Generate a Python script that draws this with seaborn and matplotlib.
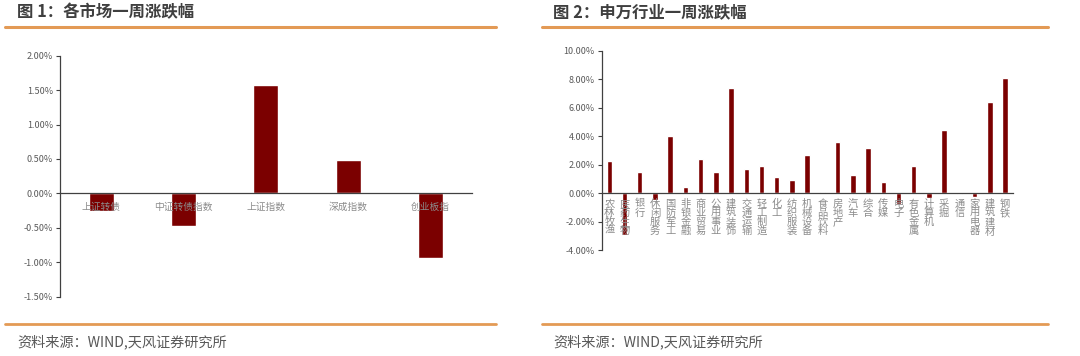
import matplotlib
matplotlib.use("Agg")
import matplotlib.pyplot as plt
import seaborn as sns
import pandas as pd
from matplotlib.lines import Line2D
from matplotlib.ticker import FuncFormatter, MultipleLocator

# ---------------- data ----------------
market_names = ["上证转债", "中证转债指数", "上证指数", "深成指数", "创业板指"]
market_values = [-0.25, -0.48, 1.57, 0.49, -0.94]  # percent

industry_names = ["农林牧渔", "医药生物", "银行", "休闲服务", "国防军工", "非银金融",
                  "商业贸易", "公用事业", "建筑装饰", "交通运输", "轻工制造", "化工",
                  "纺织服装", "机械设备", "食品饮料", "房地产", "汽车", "综合", "传媒",
                  "电子", "有色金属", "计算机", "采掘", "通信", "家用电器", "建筑建材", "钢铁"]
industry_values = [2.27, -2.95, 1.50, -0.48, 4.02, 0.42, 2.38, 1.50, 7.38, 1.73, 1.94,
                   1.17, 0.93, 2.69, 0.07, 3.58, 1.26, 3.20, 0.79, -0.77, 1.92, -0.35,
                   4.44, -0.05, -0.28, 6.42, 8.06]

title1 = "图 1：各市场一周涨跌幅"
title2 = "图 2：申万行业一周涨跌幅"
source = "资料来源：WIND,天风证券研究所"

# ---------------- style ----------------
sns.set_theme(style="white")
plt.rcParams["font.family"] = ["Noto Sans CJK SC", "DejaVu Sans"]
BAR = "#7B0000"
ORANGE = "#E39A55"
GRAY = "#595959"
AXC = "#404040"

W, H = 1080, 356
fig = plt.figure(figsize=(W / 100, H / 100), dpi=100)
fig.patch.set_facecolor("white")


def px_axes(left, top, right, bottom):
    return fig.add_axes([left / W, 1 - bottom / H, (right - left) / W, (bottom - top) / H])


pct = FuncFormatter(lambda v, p: f"{v:.2f}%")


def style_axes(ax, ymin, ymax, step, pad):
    ax.set_ylim(ymin, ymax)
    ax.yaxis.set_major_locator(MultipleLocator(step))
    ax.yaxis.set_major_formatter(pct)
    for s in ["top", "right"]:
        ax.spines[s].set_visible(False)
    ax.spines["left"].set_color(AXC)
    ax.spines["left"].set_linewidth(0.9)
    ax.spines["bottom"].set_position(("data", 0))
    ax.spines["bottom"].set_color(AXC)
    ax.spines["bottom"].set_linewidth(0.9)
    ax.tick_params(axis="y", which="major", direction="out", length=3, width=0.8,
                   color=AXC, labelsize=6.5, labelcolor=GRAY, pad=2, left=True)
    ax.tick_params(axis="x", length=0, labelsize=7, labelcolor="#8C8C8C", pad=pad)
    ax.set_xlabel("")
    ax.set_ylabel("")
    ax.set_facecolor("white")
    ax.grid(False)
    ax.set_axisbelow(False)
    for p in ax.patches:
        p.set_zorder(1)


# ---------------- chart 1 ----------------
ax1 = px_axes(60, 55.7, 471.7, 296.7)
df1 = pd.DataFrame({"name": market_names, "value": market_values})
sns.barplot(data=df1, x="name", y="value", order=market_names, color=BAR,
            saturation=1, width=0.30, ax=ax1)
ax1.set_xlim(-0.5, len(market_names) - 0.5)
style_axes(ax1, -1.5, 2.0, 0.5, 6)
ax1.set_xticks(range(len(market_names)))
ax1.set_xticklabels(market_names)

# ---------------- chart 2 ----------------
ax2 = px_axes(601.7, 50.7, 1012.7, 250.3)
df2 = pd.DataFrame({"name": industry_names, "value": industry_values})
sns.barplot(data=df2, x="name", y="value", order=industry_names, color=BAR,
            saturation=1, width=0.36, ax=ax2)
ax2.set_xlim(-0.5, len(industry_names) - 0.5)
style_axes(ax2, -4.0, 10.0, 2.0, 4)
ax2.set_xticks(range(len(industry_names)))
ax2.set_xticklabels(["\n".join(n) for n in industry_names])
for lab in ax2.get_xticklabels():
    lab.set_linespacing(0.88)
    lab.set_fontsize(7.4)
    lab.set_va("top")

# ---------------- decorations ----------------
for x0, x1, tx, title in [(5, 496, 17, title1), (542, 1048, 553, title2)]:
    fig.add_artist(Line2D([x0 / W, x1 / W], [1 - 27 / H, 1 - 27 / H], color=ORANGE, lw=2.2))
    fig.add_artist(Line2D([x0 / W, x1 / W], [1 - 324 / H, 1 - 324 / H], color=ORANGE, lw=2.0))
    fig.text(tx / W, 1 - 12 / H, title, fontsize=11.8, fontweight="bold", color="#3F3F3F",
             ha="left", va="center")
    fig.text(tx / W, 1 - 342 / H, source, fontsize=10.2, color=GRAY, ha="left", va="center")

fig.savefig("out.png", dpi=100, facecolor="white")
